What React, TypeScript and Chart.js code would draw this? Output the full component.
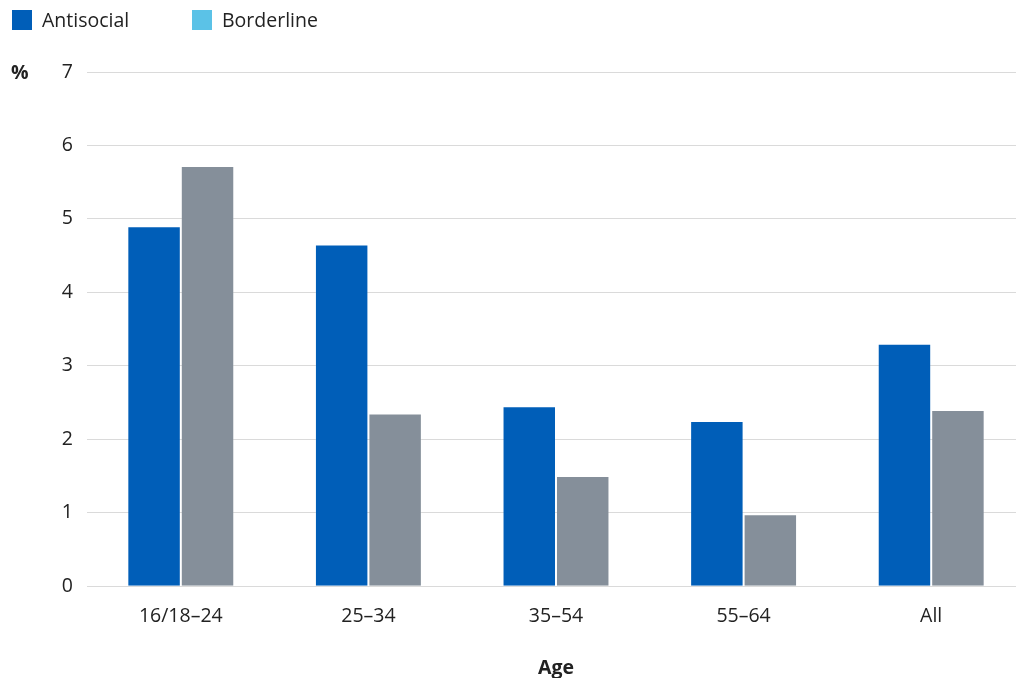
import React, { useEffect, useRef } from "react";
import { Chart, registerables } from "chart.js";

Chart.register(...registerables);

const categories = ["16/18–24", "25–34", "35–54", "55–64", "All"];
const seriesNames = ["Antisocial", "Borderline"];
const antisocial = [4.9, 4.65, 2.45, 2.25, 3.3];
const borderline = [5.72, 2.35, 1.5, 0.98, 2.4];
const barColors = ["#005eb8", "#858f9a"];
const legendColors = ["#005eb8", "#5bc2e7"];
const yTicks = [0, 1, 2, 3, 4, 5, 6, 7];
const yUnit = "%";
const xTitle = "Age";

const FONT = '"Open Sans", "Noto Sans", sans-serif';
const FS = 19.5;

const overlayPlugin = {
  id: "overlay",
  afterDraw(chart: any) {
    const ctx = chart.ctx;
    ctx.save();
    ctx.textBaseline = "middle";
    ctx.textAlign = "left";
    ctx.font = `${FS}px ${FONT}`;
    const starts = [12, 192];
    seriesNames.forEach((name, i) => {
      const x = starts[i];
      ctx.fillStyle = legendColors[i];
      ctx.fillRect(x, 10, 20, 20);
      ctx.fillStyle = "#222222";
      ctx.fillText(name, x + 30, 21);
    });
    ctx.font = `bold ${FS}px ${FONT}`;
    ctx.fillStyle = "#222222";
    ctx.fillText(yUnit, 11, chart.chartArea.top + 1);
    ctx.restore();
  },
};

export default function App() {
  const ref = useRef<HTMLCanvasElement>(null);
  useEffect(() => {
    if (!ref.current) return;
    const chart = new Chart(ref.current, {
      type: "bar",
      data: {
        labels: categories,
        datasets: [
          {
            label: seriesNames[0],
            data: antisocial,
            backgroundColor: barColors[0],
            borderColor: "rgba(255,255,255,0.15)",
            borderWidth: 1,
            barPercentage: 1,
            categoryPercentage: 0.57,
          },
          {
            label: seriesNames[1],
            data: borderline,
            backgroundColor: barColors[1],
            borderColor: "rgba(255,255,255,0.15)",
            borderWidth: 1,
            barPercentage: 1,
            categoryPercentage: 0.57,
          },
        ],
      },
      options: {
        responsive: false,
        animation: false,
        layout: { padding: { top: 72, left: 0, right: 0, bottom: -2 } },
        plugins: {
          legend: { display: false },
          tooltip: { enabled: false },
        },
        scales: {
          x: {
            grid: { display: false, drawTicks: false },
            border: { display: false },
            ticks: {
              color: "#222222",
              font: { family: FONT, size: FS },
              padding: 19,
            },
            title: {
              display: true,
              text: xTitle,
              color: "#222222",
              font: { family: FONT, size: FS, weight: "bold" },
              padding: { top: 9, bottom: 0 },
            },
          },
          y: {
            min: 0,
            max: 7,
            afterFit(scale: any) {
              scale.width = 87;
            },
            afterBuildTicks(scale: any) {
              scale.ticks = yTicks.map((v) => ({ value: v }));
            },
            grid: { color: "#dadada", lineWidth: 1, drawTicks: false },
            border: { display: false },
            ticks: {
              color: "#222222",
              font: { family: FONT, size: FS },
              padding: 14,
            },
          },
        },
      },
      plugins: [overlayPlugin],
    });
    return () => chart.destroy();
  }, []);
  return (
    <div style={{ position: "absolute", left: 0, top: 0, width: 1016, height: 678, overflow: "hidden", background: "#ffffff" }}>
      <canvas ref={ref} width={1025} height={678} style={{ width: 1025, height: 678, display: "block" }} />
    </div>
  );
}
